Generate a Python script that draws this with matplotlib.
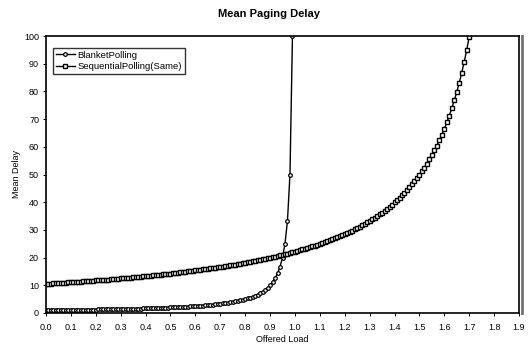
import matplotlib
matplotlib.use("Agg")
import matplotlib.pyplot as plt
from matplotlib.lines import Line2D

plt.rcParams['font.family'] = ['Liberation Sans', 'DejaVu Sans']

# Offered load values (x), step 0.01
load_blanket = [round(i * 0.01, 2) for i in range(100)]      # 0.00 .. 0.99
load_sequential = [round(i * 0.01, 2) for i in range(171)]   # 0.00 .. 1.70

blanket_delay = [
    1.00, 1.01, 1.02, 1.03, 1.04, 1.05, 1.06, 1.08, 1.09, 1.10,
    1.11, 1.12, 1.14, 1.15, 1.16, 1.18, 1.19, 1.20, 1.22, 1.23,
    1.25, 1.27, 1.28, 1.30, 1.32, 1.33, 1.35, 1.37, 1.39, 1.41,
    1.43, 1.45, 1.47, 1.49, 1.52, 1.54, 1.56, 1.59, 1.61, 1.64,
    1.67, 1.69, 1.72, 1.75, 1.79, 1.82, 1.85, 1.89, 1.92, 1.96,
    2.00, 2.04, 2.08, 2.13, 2.17, 2.22, 2.27, 2.33, 2.38, 2.44,
    2.50, 2.56, 2.63, 2.70, 2.78, 2.86, 2.94, 3.03, 3.13, 3.23,
    3.33, 3.45, 3.57, 3.70, 3.85, 4.00, 4.17, 4.35, 4.55, 4.76,
    5.00, 5.26, 5.56, 5.88, 6.25, 6.67, 7.14, 7.69, 8.33, 9.09,
    10.00, 11.11, 12.50, 14.29, 16.67, 20.00, 25.00, 33.33, 50.00, 100.00,
]

sequential_delay = [
    10.50, 10.56, 10.61, 10.67, 10.73, 10.78, 10.84, 10.90, 10.96, 11.02,
    11.08, 11.15, 11.21, 11.27, 11.34, 11.40, 11.47, 11.53, 11.60, 11.67,
    11.74, 11.80, 11.88, 11.95, 12.02, 12.09, 12.16, 12.24, 12.31, 12.39,
    12.47, 12.55, 12.63, 12.71, 12.79, 12.87, 12.95, 13.04, 13.13, 13.21,
    13.30, 13.39, 13.48, 13.57, 13.66, 13.76, 13.85, 13.95, 14.05, 14.15,
    14.25, 14.35, 14.46, 14.56, 14.67, 14.78, 14.89, 15.00, 15.11, 15.23,
    15.35, 15.47, 15.59, 15.71, 15.83, 15.96, 16.09, 16.22, 16.35, 16.49,
    16.63, 16.76, 16.91, 17.05, 17.20, 17.35, 17.50, 17.65, 17.81, 17.97,
    18.14, 18.30, 18.47, 18.64, 18.82, 19.00, 19.18, 19.37, 19.56, 19.75,
    19.95, 20.15, 20.36, 20.57, 20.78, 21.00, 21.22, 21.45, 21.68, 21.92,
    22.17, 22.41, 22.67, 22.93, 23.20, 23.47, 23.75, 24.04, 24.33, 24.63,
    24.94, 25.25, 25.58, 25.91, 26.25, 26.60, 26.96, 27.33, 27.71, 28.10,
    28.50, 28.91, 29.34, 29.78, 30.23, 30.69, 31.17, 31.67, 32.18, 32.70,
    33.25, 33.81, 34.40, 35.00, 35.63, 36.27, 36.94, 37.64, 38.37, 39.12,
    39.90, 40.71, 41.56, 42.45, 43.37, 44.33, 45.34, 46.40, 47.50, 48.66,
    49.88, 51.15, 52.50, 53.92, 55.42, 57.00, 58.68, 60.45, 62.34, 64.35,
    66.50, 68.79, 71.25, 73.89, 76.73, 79.80, 83.13, 86.74, 90.68, 95.00,
    99.75,
]

x_ticks = [round(i * 0.1, 1) for i in range(20)]
x_tick_labels = ["%.1f" % v for v in x_ticks]
y_ticks = list(range(0, 101, 10))

fig = plt.figure(figsize=(5.32, 3.46), dpi=100)
ax = fig.add_axes([46 / 532, 33 / 346, 473 / 532, 277 / 346])

ax.plot(load_blanket, blanket_delay, color='black', linewidth=1.0,
        marker='o', markersize=2.6, markerfacecolor='white',
        markeredgecolor='black', markeredgewidth=0.9, label='BlanketPolling',
        clip_on=True)
ax.plot(load_sequential, sequential_delay, color='black', linewidth=1.0,
        marker='s', markersize=3.4, markerfacecolor='white',
        markeredgecolor='black', markeredgewidth=1.0,
        label='SequentialPolling(Same)', clip_on=True)

ax.set_xlim(0, 1.9)
ax.set_ylim(0, 100)
ax.set_xticks(x_ticks)
ax.set_xticklabels(x_tick_labels)
ax.set_yticks(y_ticks)
ax.tick_params(axis='both', labelsize=6.5, length=2, width=0.7,
               direction='out')
ax.tick_params(axis='x', pad=5)
ax.tick_params(axis='y', pad=3)
for s in ax.spines.values():
    s.set_linewidth(1.2)

ax.set_xlabel('Offered Load', fontsize=6.5, labelpad=2)
ax.set_ylabel('Mean Delay', fontsize=6.5, labelpad=2)

leg = ax.legend(loc='upper left', bbox_to_anchor=(0.015, 0.957),
                fontsize=6.8, frameon=True, fancybox=False,
                edgecolor='black', borderpad=0.3, labelspacing=0.25,
                handlelength=2.0, handletextpad=0.3, borderaxespad=0)
leg.get_frame().set_linewidth(1.0)

fig.text(269 / 532, 1 - 14 / 346, 'Mean Paging Delay', ha='center',
         va='center', fontsize=8, fontweight='bold')

# grey border line on the right edge of the scanned chart
fig.add_artist(Line2D([522 / 532, 522 / 532], [33 / 346, 1 - 36 / 346],
                      color='0.45', linewidth=2.0))

fig.savefig('out.png', dpi=100)
